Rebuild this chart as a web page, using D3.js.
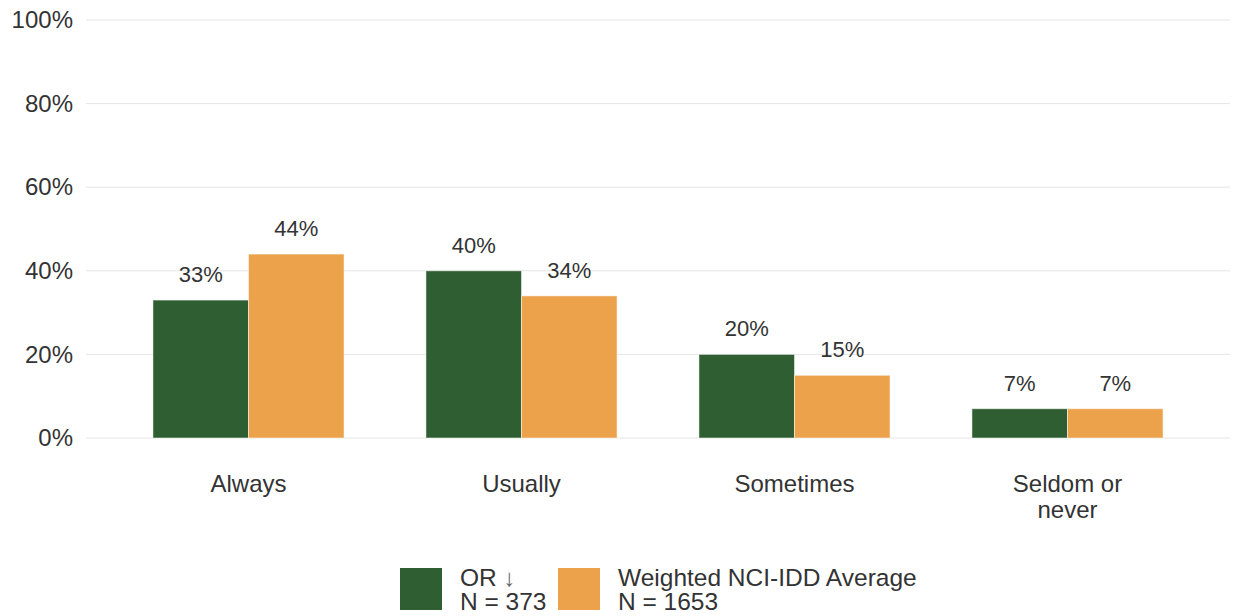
<!DOCTYPE html>
<html><head><meta charset="utf-8">
<script src="https://cdn.jsdelivr.net/npm/d3@7"></script>
<style>
html,body{margin:0;padding:0;background:#fff;}
text{font-family:"Liberation Sans",Arial,sans-serif;}
</style></head>
<body>
<svg id="chart" width="1235" height="616"></svg>
<script>
const categories = [["Always"], ["Usually"], ["Sometimes"], ["Seldom or", "never"]];
const seriesNames = ["OR", "Weighted NCI-IDD Average"];
const seriesN = ["N = 373", "N = 1653"];
const orValues = [33, 40, 20, 7];
const avgValues = [44, 34, 15, 7];
const yTicks = [0, 20, 40, 60, 80, 100];
const colors = ["#2f5e32", "#eca14b"];

const svg = d3.select("#chart");
const plotLeft = 86, plotRight = 1230, plotTop = 20, plotBottom = 438;

const y = d3.scaleLinear().domain([0, 100]).range([plotBottom, plotTop]);
const x = d3.scaleBand().domain(d3.range(categories.length)).range([112, 1204])
  .paddingInner(0.3).paddingOuter(0.15);
const xs = d3.scaleBand().domain([0, 1]).range([0, x.bandwidth()]);

// gridlines
svg.append("g").selectAll("line").data(yTicks).join("line")
  .attr("x1", plotLeft).attr("x2", plotRight)
  .attr("y1", d => y(d)).attr("y2", d => y(d))
  .attr("stroke", "#e6e6e6").attr("stroke-width", 1);

// y axis labels
const yAxis = d3.axisLeft(y).tickValues(yTicks).tickFormat(d => d + "%").tickSize(0).tickPadding(0);
const yg = svg.append("g").attr("transform", `translate(73,0)`).call(yAxis);
yg.select(".domain").remove();
yg.selectAll("text").attr("font-size", 24).attr("fill", "#333").attr("font-family", "Liberation Sans, Arial, sans-serif");

// bars
const series = [orValues, avgValues];
series.forEach((vals, si) => {
  const g = svg.append("g");
  g.selectAll("rect").data(vals).join("rect")
    .attr("x", (d, i) => x(i) + xs(si))
    .attr("width", xs.bandwidth())
    .attr("y", d => y(d))
    .attr("height", d => y(0) - y(d))
    .attr("fill", colors[si])
    .attr("stroke", "rgba(255,255,255,0.5)").attr("stroke-width", 1);
  g.selectAll("text").data(vals).join("text")
    .attr("x", (d, i) => x(i) + xs(si) + xs.bandwidth() / 2)
    .attr("y", d => y(d) - 18)
    .attr("text-anchor", "middle")
    .attr("font-size", 22).attr("fill", "#333")
    .text(d => d + "%");
});

// category labels
const cg = svg.append("g");
categories.forEach((lines, i) => {
  const t = cg.append("text")
    .attr("x", x(i) + x.bandwidth() / 2).attr("y", 492)
    .attr("text-anchor", "middle").attr("font-size", 24).attr("fill", "#333");
  lines.forEach((ln, li) => {
    t.append("tspan").attr("x", x(i) + x.bandwidth() / 2).attr("dy", li === 0 ? 0 : 26).text(ln);
  });
});

// legend
const legendX = [400, 558];
seriesNames.forEach((name, si) => {
  const lg = svg.append("g").attr("transform", `translate(${legendX[si]},568)`);
  lg.append("rect").attr("width", 42).attr("height", 42).attr("fill", colors[si]);
  const t = lg.append("text").attr("x", 60).attr("y", 18).attr("font-size", 24.5).attr("fill", "#333");
  t.append("tspan").text(name);
  if (si === 0) t.append("tspan").attr("fill", "#666").attr("font-size", 24).text(" ↓");
  lg.append("text").attr("x", 60).attr("y", 42).attr("font-size", 24.5).attr("fill", "#333").text(seriesN[si]);
});
</script>
</body></html>
